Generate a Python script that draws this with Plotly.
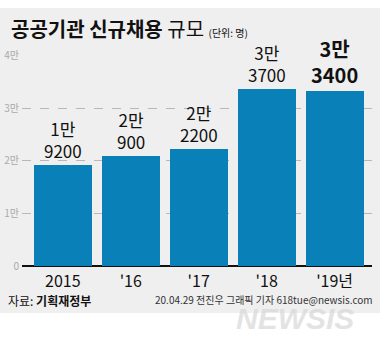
import plotly.graph_objects as go

# 공공기관 신규채용 규모 (단위: 명)
years = ["2015", "'16", "'17", "'18", "'19년"]
hires = [19200, 20900, 22200, 33700, 33400]
y_ticks = [0, 10000, 20000, 30000, 40000]
y_tick_text = ["0", "1만", "2만", "3만", "4만"]

W, H = 380, 343
FONT = "Noto Sans CJK KR"
NUM_FONT = "Liberation Sans Narrow, Noto Sans CJK KR"
BAR = "#0a80b9"
BG = "#efefef"

xs = list(range(len(years)))

fig = go.Figure(
    go.Bar(
        x=xs,
        y=hires,
        width=0.853,
        marker=dict(color=BAR, line=dict(width=0)),
        hoverinfo="skip",
    )
)

# two-line value labels above each bar ("n만" over the remainder);
# the latest year is emphasised
for i, v in enumerate(hires):
    last = i == len(hires) - 1
    label = f"{v // 10000}만<br>{v % 10000}"
    fig.add_annotation(
        x=i, y=v, xref="x", yref="y",
        text=(f"<b>{label}</b>" if last else label),
        showarrow=False, yanchor="bottom", yshift=1, borderpad=0,
        font=dict(family=NUM_FONT, size=20 if last else 17, color="#111"),
    )

# title line
fig.add_annotation(
    x=9 / W, y=1 - 21 / H, xref="paper", yref="paper",
    xanchor="left", yanchor="middle", showarrow=False,
    text="<b>공공기관 신규채용</b> 규모 <span style='font-size:10px'>(단위: 명)</span>",
    font=dict(family=FONT, size=20, color="#111"),
)

# source and credit line
fig.add_annotation(
    x=7 / W, y=1 - 305 / H, xref="paper", yref="paper",
    xanchor="left", yanchor="middle", showarrow=False, borderpad=0,
    text="자료: <b>기획재정부</b>",
    font=dict(family=FONT, size=12, color="#111"),
)
fig.add_annotation(
    x=374 / W, y=1 - 304 / H, xref="paper", yref="paper",
    xanchor="right", yanchor="middle", showarrow=False, borderpad=0,
    text="20.04.29 전진우 그래픽 기자 618tue@newsis.com",
    font=dict(family=NUM_FONT, size=10, color="#333"),
)

# agency watermark
fig.add_annotation(
    x=295 / W, y=1 - 324 / H, xref="paper", yref="paper",
    xanchor="center", yanchor="middle", showarrow=False, borderpad=0,
    text="<b><i>NEWSIS</i></b>",
    font=dict(family="Liberation Sans", size=30, color="rgba(215,215,215,0.7)"),
)

fig.update_layout(
    width=W, height=H,
    margin=dict(l=0, r=0, t=0, b=0),
    paper_bgcolor="white",
    plot_bgcolor="rgba(0,0,0,0)",
    showlegend=False,
    bargap=0,
    shapes=[
        dict(
            type="rect", xref="paper", yref="paper",
            x0=0, x1=1, y0=1 - 318 / H, y1=1,
            fillcolor=BG, line=dict(width=0), layer="below",
        )
    ],
    xaxis=dict(
        domain=[22 / W, 372 / W],
        range=[-0.6, 4.55],
        tickvals=xs, ticktext=years,
        tickfont=dict(family=NUM_FONT, size=16, color="#111"),
        showgrid=False, zeroline=False,
        showline=False, ticks="", ticklabelstandoff=4,
        fixedrange=True,
    ),
    yaxis=dict(
        domain=[1 - 269 / H, 1 - 50 / H],
        range=[0, 40000],
        tickvals=y_ticks, ticktext=y_tick_text,
        tickfont=dict(family=FONT, size=10, color="#aaa"),
        showgrid=True, gridcolor="#b8b8b8", griddash="dash", gridwidth=1,
        zeroline=True, zerolinecolor="#111", zerolinewidth=1.5,
        showline=False, ticks="", ticklabelstandoff=2,
        fixedrange=True,
    ),
)

fig.write_html("out.html")
